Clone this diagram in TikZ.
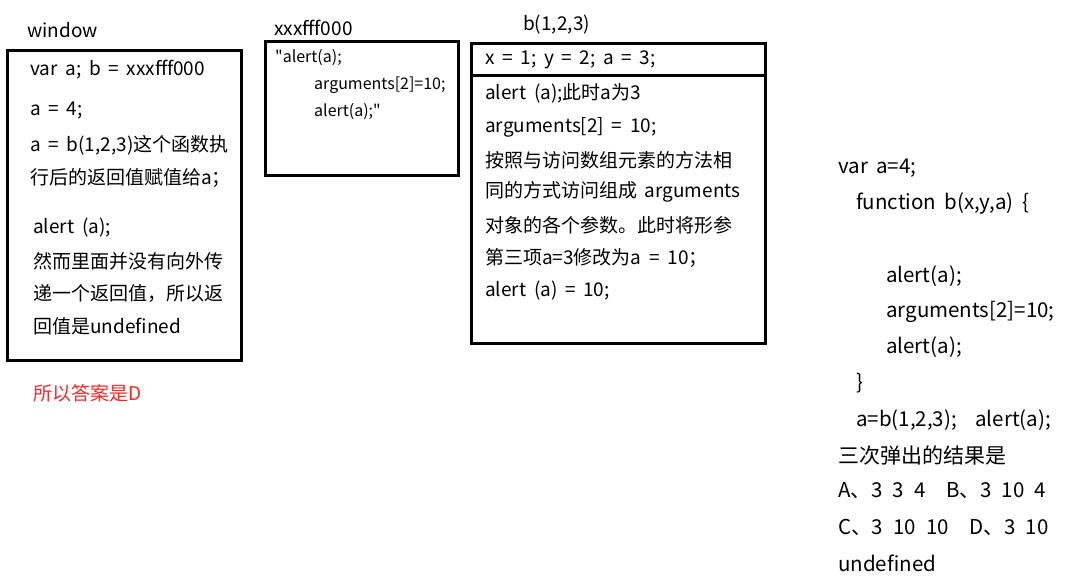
\documentclass[tikz,border=0pt]{standalone}
\usepackage{fontspec}
\setmainfont{Noto Sans CJK SC}[Ligatures=TeXOff, WordSpace=1.8]
\usepackage{xcolor}
\usetikzlibrary{positioning}
\definecolor{memo@red}{RGB}{245,40,40}
\tikzset{
  memo/.style={
    x=1pt, y=-1pt,
    every node/.style={inner sep=0pt}
  },
  membox/.style={                  % memory area box
    draw=black, line width=3pt,
    fill=none
  },
  boxtext/.style={anchor=west, font=\fontsize{19}{22}\selectfont},
  smalltext/.style={anchor=west, font=\fontsize{16}{19}\selectfont},
  codetext/.style={anchor=west, font=\fontsize{20.5}{24}\selectfont},
  boxlabel/.style={anchor=west, font=\fontsize{19}{22}\selectfont},
  answer/.style={anchor=west, font=\fontsize{19}{22}\selectfont, text=memo@red}
}
\begin{document}
\begin{tikzpicture}[memo]
\useasboundingbox (0,0) rectangle (1078,584);

% window scope (left)
\node[boxlabel] (winlabel) at (27,30) {window};
\node[membox, minimum width=234pt, minimum height=310pt] (win) at (124,205) {};
\node[boxtext] (w1) at (30,70)  {var a; b = xxxfff000};
\node[boxtext] (w2) at (30,111) {a = 4;};
\node[boxtext] (w3) at (30,145) {a = b(1,2,3)这个函数执};
\node[boxtext] (w4) at (30,178) {行后的返回值赋值给a；};
\node[boxtext] (w5) at (33,228) {alert (a);};
\node[boxtext] (w6) at (33,261) {然而里面并没有向外传};
\node[boxtext] (w7) at (33,294) {递一个返回值，所以返};
\node[boxtext] (w8) at (33,326) {回值是undefined};
\node[answer] (ans) at (33,393) {所以答案是D};

% function body stored at xxxfff000
\node[boxlabel] (heaplabel) at (274,28) {xxxfff000};
\node[membox, minimum width=193pt, minimum height=134pt] (heap) at (361.5,108) {};
\node[smalltext] (h1) at (275,58)  {"alert(a);};
\node[smalltext] (h2) at (314,85)  {arguments[2]=10;};
\node[smalltext] (h3) at (314,112) {alert(a);"};

% call b(1,2,3): parameters on top, body below
\node[boxlabel] (calllabel) at (523,25) {b(1,2,3)};
\node[membox, minimum width=294pt, minimum height=300pt] (call) at (618,193) {};
\draw[line width=3pt] (call.west |- 0,75) -- (call.east |- 0,75);
\node[boxtext] (c0) at (485,60)  {x = 1; y = 2; a = 3;};
\node[boxtext] (c1) at (485,93)  {alert (a);此时a为3};
\node[boxtext] (c2) at (485,127) {arguments[2] = 10;};
\node[boxtext] (c3) at (485,160) {按照与访问数组元素的方法相};
\node[boxtext] (c4) at (485,192) {同的方式访问组成 arguments};
\node[boxtext] (c5) at (485,225) {对象的各个参数。此时将形参};
\node[boxtext] (c6) at (485,258) {第三项a=3修改为a = 10；};
\node[boxtext] (c7) at (485,291) {alert (a) = 10;};

% the question (right)
\node[codetext] (q1)  at (838,168) {var a=4;};
\node[codetext] (q2)  at (856,204) {function b(x,y,a) \{};
\node[codetext] (q3)  at (886,276) {alert(a);};
\node[codetext] (q4)  at (886,312) {arguments[2]=10;};
\node[codetext] (q5)  at (886,347) {alert(a);};
\node[codetext] (q6)  at (856,383) {\}};
\node[codetext] (q7)  at (856,420) {a=b(1,2,3);\enspace\ alert(a);};
\node[codetext] (q8)  at (838,456) {\fontsize{21}{24}\selectfont 三次弹出的结果是};
\node[codetext] (q9)  at (838,491) {A、3\enspace 3\enspace 4\quad B、3\enspace 10\enspace 4};
\node[codetext] (q10) at (838,527) {C、3\enspace 10\enspace 10\quad D、3\enspace 10};
\node[codetext] (q11) at (838,563) {undefined};

\end{tikzpicture}
\end{document}
